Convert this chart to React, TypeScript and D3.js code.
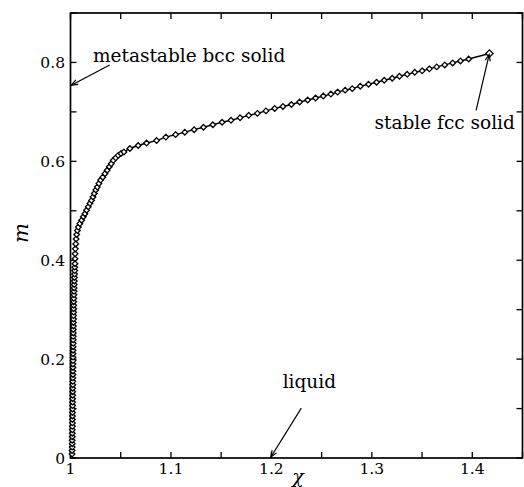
import React from "react";
import * as d3 from "d3";

// ---- data ----
const chiValues: number[] = [
  // steep, nearly vertical branch
  1.0016, 1.0016, 1.0017, 1.0017, 1.0017, 1.0018, 1.0018, 1.0018, 1.0019, 1.0019, 1.0019, 1.002, 1.002, 1.002,
  1.0021, 1.0021, 1.0021, 1.0022, 1.0022, 1.0022, 1.0023, 1.0023, 1.0023, 1.0024, 1.0024, 1.0024, 1.0025, 1.0025,
  1.0025, 1.0026, 1.0026, 1.0026, 1.0027, 1.0027, 1.0027, 1.0028, 1.0028, 1.0029, 1.0029, 1.003, 1.003, 1.0031,
  1.0031, 1.0032, 1.0032, 1.0033, 1.0034, 1.0035, 1.0036, 1.0037, 1.0038, 1.0039, 1.0041, 1.0042, 1.0043,
  // knee
  1.0045, 1.0045, 1.0046, 1.0048, 1.0052, 1.0056, 1.0062, 1.0069, 1.0078, 1.0093, 1.0111, 1.0128, 1.0144,
  1.016, 1.0177, 1.0194, 1.021, 1.0224, 1.0237, 1.0252, 1.0267, 1.0283, 1.03, 1.0321, 1.0343, 1.0365, 1.0386,
  1.0406, 1.0426, 1.045, 1.0475, 1.0503, 1.0532, 1.0591, 1.0674, 1.0757, 1.0857,
  // nearly linear branch
  1.0949, 1.1046, 1.1138, 1.1231, 1.1324, 1.1417, 1.1509, 1.1598, 1.1688, 1.1774, 1.1861, 1.1946, 1.2033,
  1.2115, 1.2199, 1.2281, 1.2361, 1.244, 1.2517, 1.2592, 1.2659, 1.2734, 1.2805, 1.2885, 1.2967, 1.3047,
  1.3123, 1.3203, 1.3275, 1.3352, 1.3427, 1.3501, 1.3573, 1.3646, 1.3726, 1.3805, 1.3882, 1.3964, 1.4171,
];

const mValues: number[] = [
  0.008, 0.015, 0.022, 0.029, 0.036, 0.043, 0.05, 0.057, 0.064, 0.071, 0.078, 0.085, 0.092, 0.099,
  0.106, 0.113, 0.12, 0.127, 0.134, 0.141, 0.148, 0.155, 0.162, 0.169, 0.176, 0.183, 0.19, 0.197,
  0.204, 0.211, 0.218, 0.225, 0.232, 0.239, 0.246, 0.253, 0.26, 0.267, 0.274, 0.281, 0.288, 0.295,
  0.302, 0.309, 0.316, 0.323, 0.33, 0.337, 0.344, 0.351, 0.358, 0.365, 0.372, 0.379, 0.386,
  0.393, 0.403, 0.413, 0.423, 0.433, 0.443, 0.452, 0.46, 0.467, 0.474, 0.481, 0.488, 0.494,
  0.501, 0.508, 0.515, 0.521, 0.528, 0.535, 0.542, 0.548, 0.555, 0.562, 0.568, 0.575, 0.582, 0.589,
  0.595, 0.602, 0.607, 0.612, 0.616, 0.619, 0.626, 0.632, 0.637, 0.642,
  0.649, 0.654, 0.659, 0.664, 0.669, 0.674, 0.679, 0.683, 0.688, 0.693, 0.697, 0.702, 0.707,
  0.711, 0.715, 0.72, 0.724, 0.728, 0.732, 0.736, 0.74, 0.744, 0.747, 0.752, 0.756, 0.76,
  0.764, 0.768, 0.772, 0.776, 0.78, 0.783, 0.787, 0.791, 0.795, 0.799, 0.803, 0.807, 0.818,
];

const xMajorTicks = [1, 1.1, 1.2, 1.3, 1.4];
const xTickLabels = ["1", "1.1", "1.2", "1.3", "1.4"];
const xMinorTicks = [1.05, 1.15, 1.25, 1.35, 1.45];
const yMajorTicks = [0, 0.2, 0.4, 0.6, 0.8];
const yTickLabels = ["0", "0.2", "0.4", "0.6", "0.8"];
const yMinorTicks = [0.1, 0.3, 0.5, 0.7, 0.9];

// annotations: label, text anchor (chi, m), arrow tail (chi, m), arrow tip (chi, m)
const annLabels = ["metastable bcc solid", "stable fcc solid", "liquid"];
const annTextPos: [number, number][] = [[1.0224, 0.8], [1.3027, 0.666], [1.2112, 0.141]];
const annTail: [number, number][] = [[1.039, 0.795], [1.4038, 0.703], [1.2298, 0.101]];
const annTip: [number, number][] = [[1.0008, 0.754], [1.4168, 0.816], [1.1995, 0.002]];

const W = 524;
const H = 487;
const M = { left: 70.5, right: 522.5, top: 13, bottom: 458 };
const SERIF = "'DejaVu Serif', serif";

export default function App() {
  const x = d3.scaleLinear().domain([1, 1.45]).range([M.left, M.right]);
  const y = d3.scaleLinear().domain([0, 0.9]).range([M.bottom, M.top]);
  const pts = chiValues.map((c, i) => [c, mValues[i]] as [number, number]);
  const line = d3
    .line<[number, number]>()
    .x((d) => x(d[0]))
    .y((d) => y(d[1]))
    .curve(d3.curveLinear);
  const marker = d3.symbol().type(d3.symbolDiamond2).size(20)() as string;
  const endMarker = d3.symbol().type(d3.symbolDiamond2).size(34)() as string;
  const tickLen = 6;

  const arrowHead = (tail: [number, number], tip: [number, number]) => {
    const x1 = x(tail[0]), y1 = y(tail[1]), x2 = x(tip[0]), y2 = y(tip[1]);
    const ang = Math.atan2(y2 - y1, x2 - x1);
    const L = 7, a = 0.38;
    const p1 = [x2 - L * Math.cos(ang - a), y2 - L * Math.sin(ang - a)];
    const p2 = [x2 - L * Math.cos(ang + a), y2 - L * Math.sin(ang + a)];
    return `M${p1[0]},${p1[1]}L${x2},${y2}L${p2[0]},${p2[1]}`;
  };

  return (
    <svg
      width={W}
      height={H}
      style={{ position: "absolute", left: 0, top: 0, background: "#fff" }}
      fontFamily={SERIF}
    >
      <rect x={0} y={0} width={W} height={H} fill="#fff" />
      {/* frame */}
      <rect
        x={M.left}
        y={M.top}
        width={M.right - M.left}
        height={M.bottom - M.top}
        fill="none"
        stroke="#000"
        strokeWidth={1.7}
      />
      {/* x ticks (bottom and top, inward) */}
      {[...xMajorTicks, ...xMinorTicks].map((t, i) => (
        <g key={"xt" + i}>
          <line x1={x(t)} x2={x(t)} y1={M.bottom} y2={M.bottom - tickLen} stroke="#000" strokeWidth={1.3} />
          <line x1={x(t)} x2={x(t)} y1={M.top} y2={M.top + tickLen} stroke="#000" strokeWidth={1.3} />
        </g>
      ))}
      {/* y ticks (left and right, inward) */}
      {[...yMajorTicks, ...yMinorTicks].map((t, i) => (
        <g key={"yt" + i}>
          <line x1={M.left} x2={M.left + tickLen} y1={y(t)} y2={y(t)} stroke="#000" strokeWidth={1.3} />
          <line x1={M.right} x2={M.right - tickLen} y1={y(t)} y2={y(t)} stroke="#000" strokeWidth={1.3} />
        </g>
      ))}
      {/* tick labels */}
      {xMajorTicks.map((t, i) => (
        <text key={"xl" + i} x={x(t)} y={474} textAnchor="middle" fontSize={15.5} fill="#000">
          {xTickLabels[i]}
        </text>
      ))}
      {yMajorTicks.map((t, i) => (
        <text key={"yl" + i} x={65} y={y(t)} dy="0.36em" textAnchor="end" fontSize={15.5} fill="#000">
          {yTickLabels[i]}
        </text>
      ))}
      {/* axis titles */}
      <text x={298} y={483} textAnchor="middle" fontSize={19} fontStyle="italic" fill="#000">
        χ
      </text>
      <text
        transform={`translate(28,${233}) rotate(-90)`}
        textAnchor="middle"
        fontSize={21}
        fontStyle="italic"
        fill="#000"
      >
        m
      </text>
      {/* curve */}
      <path d={line(pts) as string} fill="none" stroke="#000" strokeWidth={1.4} />
      {pts.slice(0, -1).map((p, i) => (
        <path
          key={"m" + i}
          d={marker}
          transform={`translate(${x(p[0])},${y(p[1])})`}
          fill="#fff"
          stroke="#000"
          strokeWidth={1.3}
        />
      ))}
      <path
        d={endMarker}
        transform={`translate(${x(pts[pts.length - 1][0])},${y(pts[pts.length - 1][1])})`}
        fill="#fff"
        stroke="#000"
        strokeWidth={1.3}
      />
      {/* annotations */}
      {annLabels.map((lab, i) => (
        <g key={"a" + i}>
          <text x={x(annTextPos[i][0])} y={y(annTextPos[i][1])} fontSize={18.5} fill="#000">
            {lab}
          </text>
          <line
            x1={x(annTail[i][0])}
            y1={y(annTail[i][1])}
            x2={x(annTip[i][0])}
            y2={y(annTip[i][1])}
            stroke="#000"
            strokeWidth={1.2}
          />
          <path d={arrowHead(annTail[i], annTip[i])} fill="none" stroke="#000" strokeWidth={1.2} />
        </g>
      ))}
    </svg>
  );
}
